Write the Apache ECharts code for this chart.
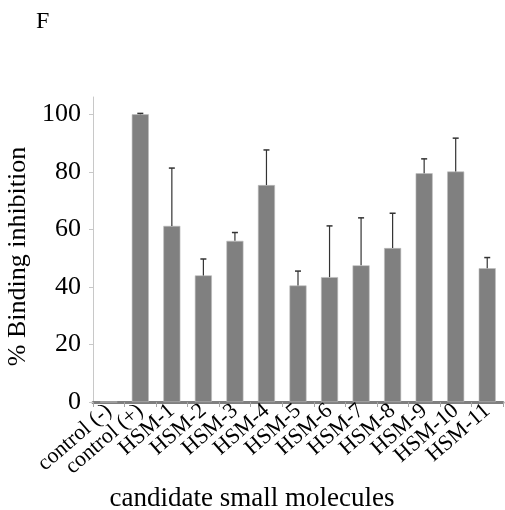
<!DOCTYPE html>
<html>
<head>
<meta charset="utf-8">
<script src="https://cdn.jsdelivr.net/npm/echarts@6/dist/echarts.min.js"></script>
<style>html,body{margin:0;padding:0;background:#fff}</style>
</head>
<body>
<div id="chart" style="width: 505px; height: 510px"></div>
<script>
// data
var categories = ['control (-)', 'control (+)', 'HSM-1', 'HSM-2', 'HSM-3', 'HSM-4', 'HSM-5',
  'HSM-6', 'HSM-7', 'HSM-8', 'HSM-9', 'HSM-10', 'HSM-11']
var inhibition = [0, 100, 61.2, 44.0, 56.0, 75.4, 40.5, 43.4, 47.5, 53.5, 79.5, 80.1, 46.5]
var errors = [0, 0.3, 20.1, 5.7, 2.9, 12.2, 5.0, 17.8, 16.5, 12.1, 5.0, 11.6, 3.7]
var yTicks = [0, 20, 40, 60, 80, 100]

var serif = '"Liberation Serif", "DejaVu Serif", serif'

var errData = inhibition.map(function (v, i) {
  return [i, v, errors[i]]
})

var chart = echarts.init(document.getElementById('chart'))

var option = {
  animation: false,
  title: {
    text: 'F',
    left: 31,
    top: 5,
    textStyle: { fontFamily: serif, fontSize: 24, fontWeight: 'normal', color: '#000' }
  },
  grid: { left: 93, right: 2, top: 97, bottom: 108, outerBoundsMode: 'none', containLabel: false },
  xAxis: {
    type: 'category',
    data: categories,
    boundaryGap: true,
    name: 'candidate small molecules',
    nameLocation: 'middle',
    nameGap: 73,
    nameTextStyle: { fontFamily: serif, fontSize: 27, color: '#000', padding: [0, 92, 0, 0] },
    axisLine: { lineStyle: { color: '#7f7f7f', width: 3 } },
    axisTick: { show: true, length: 5, lineStyle: { color: '#a6a6a6' } },
    axisLabel: {
      interval: 0,
      rotate: 41,
      margin: 6,
      fontFamily: serif,
      fontSize: 22,
      color: '#000'
    }
  },
  yAxis: {
    type: 'value',
    min: 0,
    max: 106,
    interval: 20,
    name: '% Binding inhibition',
    nameLocation: 'middle',
    nameGap: 62,
    nameTextStyle: { fontFamily: serif, fontSize: 26, color: '#000', padding: [0, 14, 0, 0] },
    splitLine: { show: false },
    axisLine: { show: true, lineStyle: { color: '#c8c8c8', width: 1 } },
    axisTick: { show: true, length: 4, lineStyle: { color: '#c8c8c8' } },
    axisLabel: {
      showMaxLabel: false,
      margin: 12,
      fontFamily: serif,
      fontSize: 26,
      color: '#000',
      formatter: function (v) {
        return yTicks.indexOf(v) >= 0 ? String(v) : ''
      }
    }
  },
  series: [
    {
      type: 'bar',
      data: inhibition,
      barWidth: '54%',
      itemStyle: { color: '#808080', borderColor: '#bdbdbd', borderWidth: 0.6 }
    },
    {
      type: 'custom',
      data: errData,
      z: 3,
      renderItem: function (params, api) {
        var i = api.value(0)
        if (api.value(2) <= 0.5 && api.value(1) <= 0) return
        var base = api.coord([i, api.value(1)])
        var top = api.coord([i, api.value(1) + api.value(2)])
        var cap = 3
        return {
          type: 'group',
          children: [
            {
              type: 'line',
              shape: { x1: base[0], y1: base[1], x2: top[0], y2: top[1] },
              style: { stroke: '#333', lineWidth: 1.2 }
            },
            {
              type: 'line',
              shape: { x1: top[0] - cap, y1: top[1], x2: top[0] + cap, y2: top[1] },
              style: { stroke: '#333', lineWidth: 1.5 }
            }
          ]
        }
      }
    }
  ]
}

chart.setOption(option)
</script>
</body>
</html>
